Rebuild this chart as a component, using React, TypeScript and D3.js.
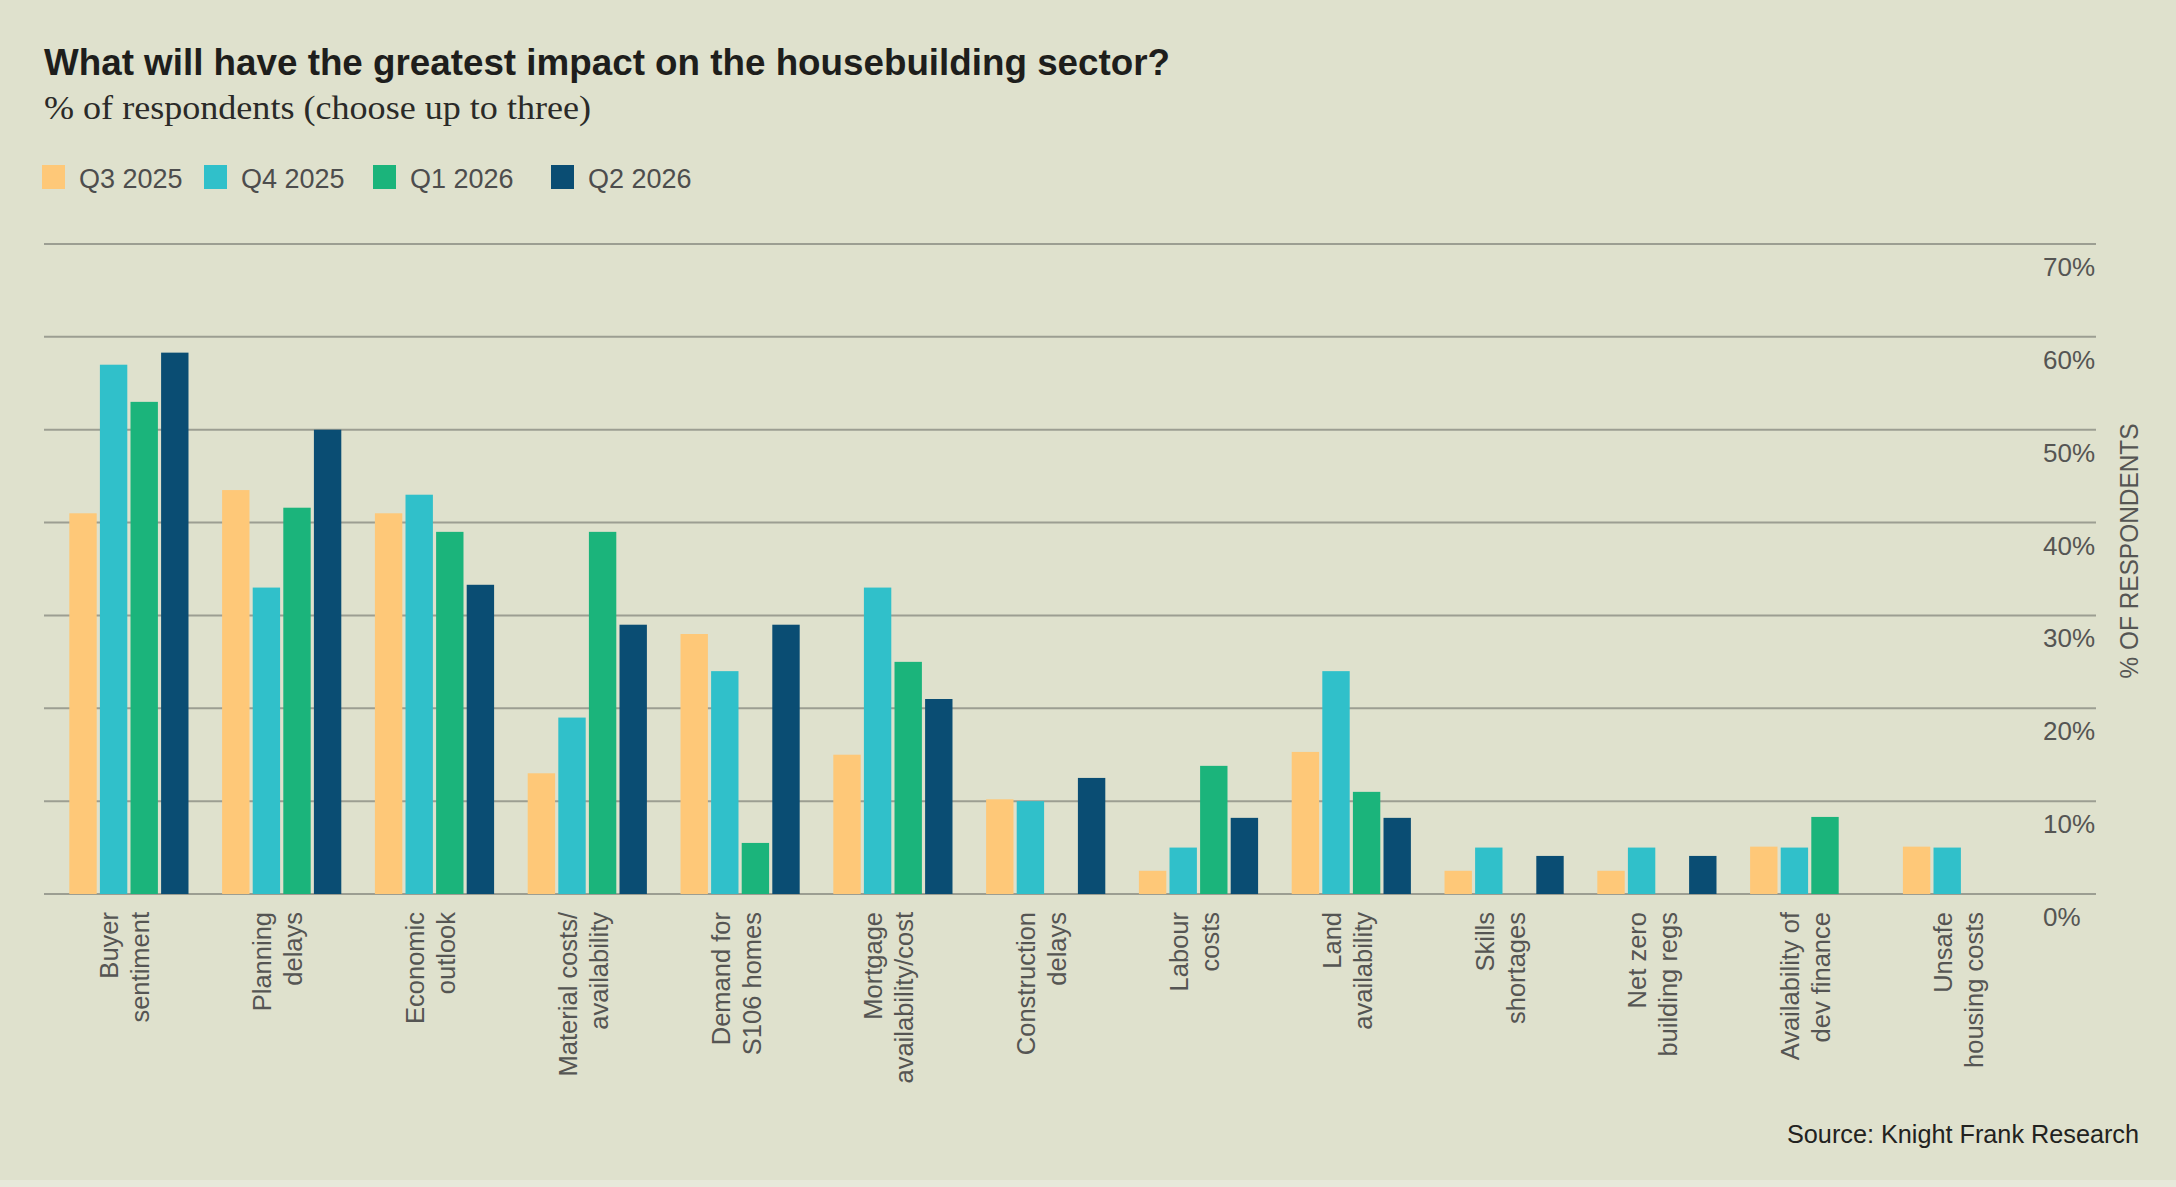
import { useEffect } from 'react'
import * as d3 from 'd3'

// Survey answers, % of respondents
const categories = [
  ['Buyer', 'sentiment'],
  ['Planning', 'delays'],
  ['Economic', 'outlook'],
  ['Material costs/', 'availability'],
  ['Demand for', 'S106 homes'],
  ['Mortgage', 'availability/cost'],
  ['Construction', 'delays'],
  ['Labour', 'costs'],
  ['Land', 'availability'],
  ['Skills', 'shortages'],
  ['Net zero', 'building regs'],
  ['Availability of', 'dev finance'],
  ['Unsafe', 'housing costs'],
]

const seriesNames = ['Q3 2025', 'Q4 2025', 'Q1 2026', 'Q2 2026']
const seriesColors = ['#fec878', '#30c0ca', '#1bb47b', '#0a4d73']

const q3_2025 = [41, 43.5, 41, 13, 28, 15, 10.2, 2.5, 15.3, 2.5, 2.5, 5.1, 5.1]
const q4_2025 = [57, 33, 43, 19, 24, 33, 10, 5, 24, 5, 5, 5, 5]
const q1_2026 = [53, 41.6, 39, 39, 5.5, 25, 0, 13.8, 11, 0, 0, 8.3, 0]
const q2_2026 = [58.3, 50, 33.3, 29, 29, 21, 12.5, 8.2, 8.2, 4.1, 4.1, 0, 0]

const yTicks = [0, 10, 20, 30, 40, 50, 60, 70]

const W = 2176
const H = 1187

export default function App() {
  useEffect(() => {
    document.body.style.margin = '0'
  }, [])

  const series = [q3_2025, q4_2025, q1_2026, q2_2026]
  const keys = categories.map(c => c.join(' '))

  const x0 = d3.scaleBand<string>()
    .domain(keys)
    .range([52.5, 2038.9])
    .paddingInner(0.22)
    .paddingOuter(0.11)

  const x1 = d3.scaleBand<string>()
    .domain(seriesNames)
    .range([0, x0.bandwidth()])
    .paddingInner(0.105)

  const y = d3.scaleLinear().domain([0, 70]).range([894, 244])

  const font = '"Liberation Sans", Arial, sans-serif'
  const legendX = [42, 204, 373, 551]
  const labelSize = 25.5
  const lineH = 31

  return (
    <svg
      width={W}
      height={H}
      style={{ display: 'block', position: 'absolute', left: 0, top: 0 }}
    >
      <rect x={0} y={0} width={W} height={H} fill="#dfe1cd" />
      <rect x={0} y={H - 7} width={W} height={7} fill="#e7e9da" />

      {/* Heading */}
      <text
        x={44}
        y={75}
        fontFamily={font}
        fontWeight="bold"
        fontSize={37}
        fill="#1e1e1c"
        textLength={1126}
        lengthAdjust="spacingAndGlyphs"
      >
        What will have the greatest impact on the housebuilding sector?
      </text>
      <text
        x={44}
        y={119}
        fontFamily='"Liberation Serif", "Times New Roman", serif'
        fontSize={34}
        fill="#2a2a28"
        textLength={547}
        lengthAdjust="spacingAndGlyphs"
      >
        % of respondents (choose up to three)
      </text>

      {/* Legend */}
      {seriesNames.map((name, i) => (
        <g key={name} transform={`translate(${legendX[i]},0)`}>
          <rect x={0} y={165} width={23} height={24} fill={seriesColors[i]} />
          <text x={37} y={188} fontFamily={font} fontSize={27} fill="#4d4d4d">
            {name}
          </text>
        </g>
      ))}

      {/* Gridlines and y ticks */}
      {yTicks.map(t => (
        <g key={t}>
          <line x1={44} x2={2096} y1={y(t)} y2={y(t)} stroke="#9c9e92" strokeWidth={2} />
          <text x={2043} y={y(t) + 32} fontFamily={font} fontSize={26} fill="#555553">
            {t}%
          </text>
        </g>
      ))}

      <text
        transform={`translate(2138,551) rotate(-90)`}
        textAnchor="middle"
        fontFamily={font}
        fontSize={26}
        fill="#555553"
        textLength={255}
        lengthAdjust="spacingAndGlyphs"
      >
        % OF RESPONDENTS
      </text>

      {/* Bars */}
      {keys.map((k, ci) => (
        <g key={k} transform={`translate(${x0(k)},0)`}>
          {seriesNames.map((s, si) => {
            const v = series[si][ci]
            if (!v) return null
            return (
              <rect
                key={s}
                x={x1(s)}
                y={y(v)}
                width={x1.bandwidth()}
                height={y(0) - y(v)}
                fill={seriesColors[si]}
              />
            )
          })}
        </g>
      ))}

      {/* Category labels */}
      {categories.map((lines, ci) => {
        const cx = (x0(keys[ci]) ?? 0) + x0.bandwidth() / 2
        return (
          <g key={keys[ci]}>
            {lines.map((line, li) => (
              <text
                key={li}
                transform={`translate(${cx + (li - (lines.length - 1) / 2) * lineH + 5},912) rotate(-90)`}
                textAnchor="end"
                fontFamily={font}
                fontSize={labelSize}
                fill="#555553"
              >
                {line}
              </text>
            ))}
          </g>
        )
      })}

      <text
        x={2139}
        y={1143}
        textAnchor="end"
        fontFamily={font}
        fontSize={26}
        fill="#222220"
        textLength={352}
        lengthAdjust="spacingAndGlyphs"
      >
        Source: Knight Frank Research
      </text>
    </svg>
  )
}
